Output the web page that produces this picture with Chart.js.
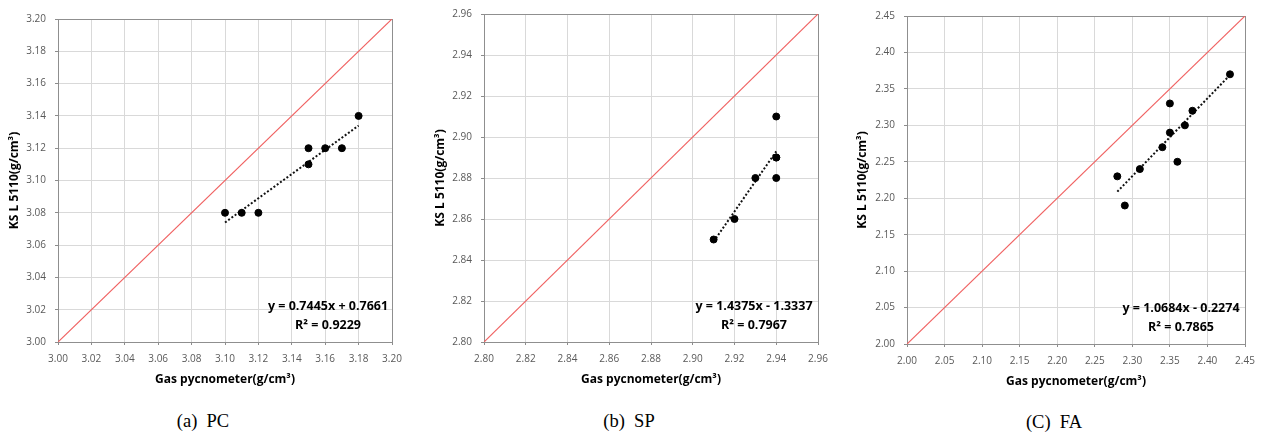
<!DOCTYPE html>
<html><head><meta charset="utf-8">
<script src="https://cdn.jsdelivr.net/npm/chart.js@4"></script>
<style>
html,body{margin:0;padding:0;background:#fff;width:1262px;height:433px;overflow:hidden;position:relative}
canvas{position:absolute;top:0}
.cap{position:absolute;font-family:"Liberation Serif","Times New Roman",serif;font-size:18.5px;color:#000;white-space:pre;transform:translate(-50%,-50%);line-height:1}
</style></head><body>
<canvas id="c1" width="406" height="391" style="left:0px"></canvas>
<canvas id="c2" width="412" height="391" style="left:420px"></canvas>
<canvas id="c3" width="419" height="393" style="left:840px"></canvas>
<div class="cap" style="left:203px;top:421px">(a)  PC</div>
<div class="cap" style="left:629px;top:421px">(b)  SP</div>
<div class="cap" style="left:1054px;top:422px">(C)  FA</div>
<script>
// ---- data ----
const pcX = [3.10, 3.11, 3.12, 3.15, 3.15, 3.16, 3.17, 3.18];
const pcY = [3.08, 3.08, 3.08, 3.12, 3.11, 3.12, 3.12, 3.14];
const pcTrendX = [3.10, 3.18];
const pcTrendY = [3.074, 3.134];
const pcTicks = [3.00, 3.02, 3.04, 3.06, 3.08, 3.10, 3.12, 3.14, 3.16, 3.18, 3.20];
const pcEquation = ["y = 0.7445x + 0.7661", "R² = 0.9229"];

const spX = [2.91, 2.92, 2.93, 2.94, 2.94, 2.94, 2.94];
const spY = [2.85, 2.86, 2.88, 2.91, 2.89, 2.89, 2.88];
const spTrendX = [2.91, 2.94];
const spTrendY = [2.849, 2.893];
const spTicks = [2.80, 2.82, 2.84, 2.86, 2.88, 2.90, 2.92, 2.94, 2.96];
const spEquation = ["y = 1.4375x - 1.3337", "R² = 0.7967"];

const faX = [2.28, 2.29, 2.31, 2.34, 2.35, 2.35, 2.36, 2.37, 2.38, 2.43];
const faY = [2.23, 2.19, 2.24, 2.27, 2.33, 2.29, 2.25, 2.30, 2.32, 2.37];
const faTrendX = [2.28, 2.43];
const faTrendY = [2.209, 2.369];
const faTicks = [2.00, 2.05, 2.10, 2.15, 2.20, 2.25, 2.30, 2.35, 2.40, 2.45];
const faEquation = ["y = 1.0684x - 0.2274", "R² = 0.7865"];

const xTitle = "Gas pycnometer(g/cm³)";
const yTitle = "KS L 5110(g/cm³)";

const pairs = (xs, ys) => xs.map((x, i) => ({x: x, y: ys[i]}));

const framePlugin = {
  id: 'frame',
  beforeDatasetsDraw(chart) {
    const a = chart.chartArea, ctx = chart.ctx;
    ctx.save();
    ctx.beginPath();
    ctx.strokeStyle = '#8f8f8f';
    ctx.lineWidth = 1;
    ctx.setLineDash([]);
    ctx.strokeRect(Math.round(a.left) + 0.5, Math.round(a.top) + 0.5,
      Math.round(a.right - a.left), Math.round(a.bottom - a.top));
    ctx.beginPath();
    ctx.restore();
  }
};

function makeChart(id, xs, ys, tx, ty, ticks, eq, yAxisW, xAxisH, topPad, titlePad) {
  const lo = ticks[0], hi = ticks[ticks.length - 1];
  const tickFmt = v => Number(v).toFixed(2);
  const eqPlugin = {
    id: 'eq',
    afterDatasetsDraw(chart) {
      const a = chart.chartArea, ctx = chart.ctx;
      ctx.save();
      ctx.font = 'bold 12.5px "Open Sans"';
      ctx.fillStyle = '#000';
      ctx.textAlign = 'center';
      ctx.textBaseline = 'middle';
      ctx.fillText(eq[0], a.right - 64, a.bottom - 36);
      ctx.fillText(eq[1], a.right - 64, a.bottom - 17);
      ctx.restore();
    }
  };
  return new Chart(document.getElementById(id), {
    type: 'scatter',
    data: {
      datasets: [
        { label: 'data', data: pairs(xs, ys), backgroundColor: '#000', borderColor: '#000',
          pointRadius: 3.5, pointHoverRadius: 3.5, showLine: false, order: 1 },
        { label: 'trend', data: pairs(tx, ty), showLine: true, borderColor: '#111', backgroundColor: '#111',
          borderWidth: 2, borderDash: [2, 2], pointRadius: 0, fill: false, order: 2 },
        { label: 'identity', data: [{x: lo, y: lo}, {x: hi, y: hi}], showLine: true,
          borderColor: '#f06262', backgroundColor: '#f06262',
          borderWidth: 1.2, pointRadius: 0, fill: false, order: 3 }
      ]
    },
    options: {
      responsive: false, animation: false, devicePixelRatio: 1,
      layout: { padding: { top: topPad, right: 14, left: 0, bottom: 0 } },
      plugins: { legend: { display: false }, tooltip: { enabled: false } },
      scales: {
        x: {
          type: 'linear', min: lo, max: hi,
          afterBuildTicks: s => { s.ticks = ticks.map(v => ({value: v})); },
          afterFit: s => { s.height = xAxisH; s.paddingLeft = 0; s.paddingRight = 0; },
          grid: { color: '#d9d9d9', drawTicks: true, tickLength: 3, tickColor: '#8c8c8c' },
          border: { display: true, color: '#8c8c8c' },
          ticks: { color: '#595959', font: { family: '"Open Sans"', size: 10 }, padding: 8,
                   callback: tickFmt, maxRotation: 0, autoSkip: false },
          title: { display: true, text: xTitle, color: '#000',
                   font: { family: '"Open Sans"', size: 12, weight: 'bold' } }
        },
        y: {
          type: 'linear', min: lo, max: hi,
          afterBuildTicks: s => { s.ticks = ticks.map(v => ({value: v})); },
          afterFit: s => { s.width = yAxisW; s.paddingTop = 0; s.paddingBottom = 0; },
          grid: { color: '#d9d9d9', drawTicks: true, tickLength: 3, tickColor: '#8c8c8c' },
          border: { display: true, color: '#8c8c8c' },
          ticks: { color: '#595959', font: { family: '"Open Sans"', size: 10 }, padding: 9,
                   callback: tickFmt, autoSkip: false },
          title: { display: true, text: yTitle, color: '#000',
                   padding: { top: titlePad, bottom: 4 },
                   font: { family: '"Open Sans"', size: 12, weight: 'bold' } }
        }
      }
    },
    plugins: [framePlugin, eqPlugin]
  });
}

makeChart('c1', pcX, pcY, pcTrendX, pcTrendY, pcTicks, pcEquation, 58, 49, 19, 7);
makeChart('c2', spX, spY, spTrendX, spTrendY, spTicks, spEquation, 64, 49, 14, 13);
makeChart('c3', faX, faY, faTrendX, faTrendY, faTicks, faEquation, 67, 49, 16, 15);
</script>
</body></html>
